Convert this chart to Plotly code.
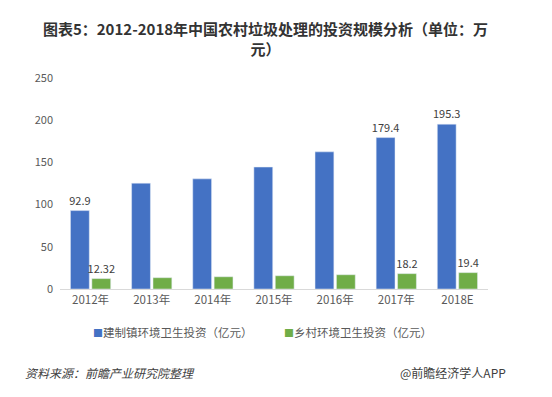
import plotly.graph_objects as go

categories = ["2012年", "2013年", "2014年", "2015年", "2016年", "2017年", "2018E"]
town_invest = [92.9, 125.4, 130.5, 144.5, 162.5, 179.4, 195.3]
village_invest = [12.32, 13.4, 14.5, 15.7, 16.9, 18.2, 19.4]
town_labels = ["92.9", "", "", "", "", "179.4", "195.3"]
village_labels = ["12.32", "", "", "", "", "18.2", "19.4"]
y_ticks = [0, 50, 100, 150, 200, 250]
series_names = ["建制镇环境卫生投资（亿元）", "乡村环境卫生投资（亿元）"]
series_colors = ["#4472C4", "#70AD47"]

FONT = "Noto Sans CJK SC"

# The page body has an 8px margin, so the figure is drawn 8px smaller
W, H = 544, 389
PL, PT, PW, PH = 52, 70, 428, 211
PB = PT + PH

def px_x(px):
    return (px - PL) / PW

def px_y(py):
    return (PB - py) / PH

fig = go.Figure()
fig.add_trace(go.Bar(
    x=categories, y=town_invest, name=series_names[0],
    marker_color=series_colors[0], text=town_labels, textposition="outside",
    constraintext="none", textfont=dict(size=11, color="#404040"), cliponaxis=False,
))
fig.add_trace(go.Bar(
    x=categories, y=village_invest, name=series_names[1],
    marker_color=series_colors[1], text=village_labels, textposition="outside",
    constraintext="none", textfont=dict(size=11, color="#404040"), cliponaxis=False,
))

def legend_text(name, color):
    return f'<span style="color:{color};font-size:10px">■</span>{name}'

legend_ann = [
    dict(text=legend_text(series_names[0], series_colors[0]),
         xref="paper", yref="paper", x=px_x(83), y=px_y(324),
         xanchor="left", yanchor="middle", showarrow=False,
         font=dict(size=11.5, color="#595959")),
    dict(text=legend_text(series_names[1], series_colors[1]),
         xref="paper", yref="paper", x=px_x(274), y=px_y(324),
         xanchor="left", yanchor="middle", showarrow=False,
         font=dict(size=11.5, color="#595959")),
]

footer_ann = [
    dict(text="<i>资料来源：前瞻产业研究院整理</i>", xref="paper", yref="paper",
         x=px_x(15), y=px_y(364), xanchor="left", yanchor="middle", showarrow=False,
         font=dict(size=12, color="#404040")),
    dict(text="@前瞻经济学人APP", xref="paper", yref="paper",
         x=px_x(500), y=px_y(364), xanchor="right", yanchor="middle", showarrow=False,
         font=dict(size=12, color="#404040")),
]

fig.update_layout(
    width=W, height=H,
    margin=dict(l=PL, r=W - PL - PW, t=PT, b=H - PB),
    paper_bgcolor="white", plot_bgcolor="white",
    font=dict(family=FONT, size=11, color="#595959"),
    barmode="group", bargap=0.3, bargroupgap=0.12,
    title=dict(
        text="<b>图表5：2012-2018年中国农村垃圾处理的投资规模分析（单位：万<br>元）</b>",
        x=257.5 / W, xanchor="center", y=1 - 27 / H, yanchor="top",
        font=dict(family=FONT, size=15, color="#333333"),
    ),
    xaxis=dict(
        showline=True, linecolor="#d9d9d9", linewidth=1,
        ticks="", showgrid=False, tickfont=dict(size=11.5, color="#595959"),
    ),
    yaxis=dict(
        range=[0, 250], tickvals=y_ticks, showgrid=False, zeroline=False,
        showline=False, ticks="", tickfont=dict(size=11, color="#595959"),
        ticklabelstandoff=6,
    ),
    showlegend=False,
    annotations=legend_ann + footer_ann,
)

fig.write_html("out.html")
